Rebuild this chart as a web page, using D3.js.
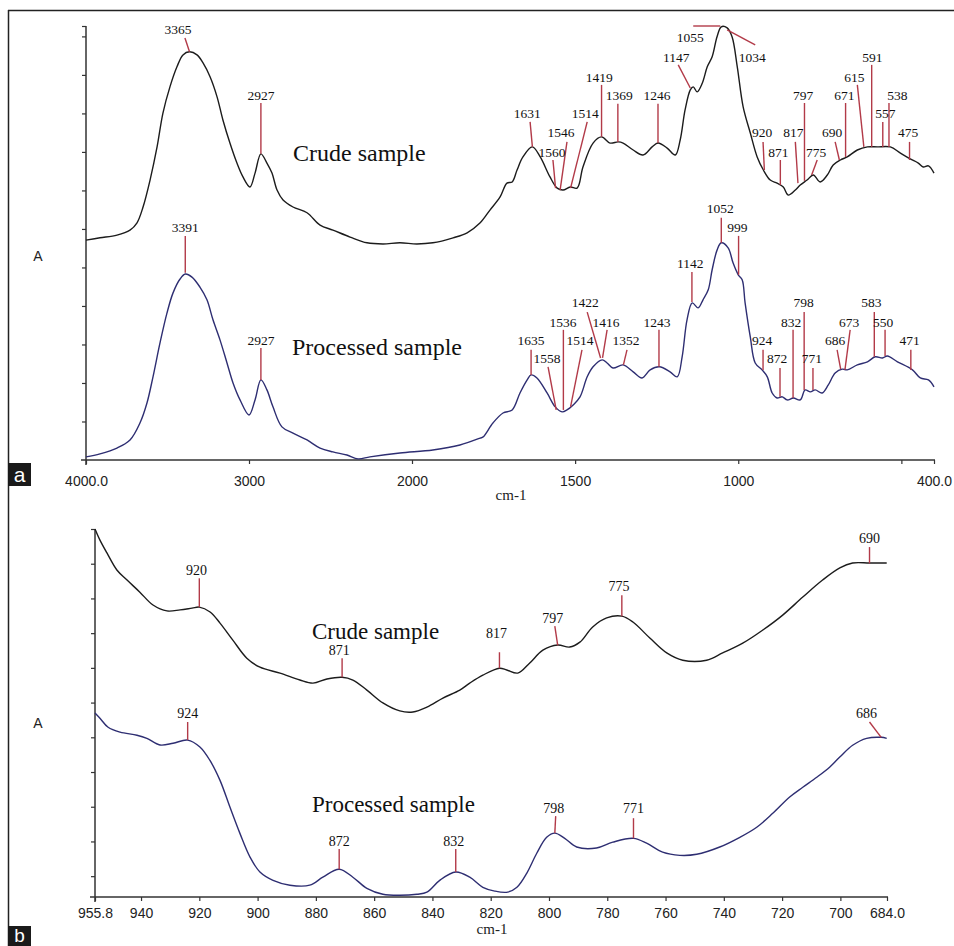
<!DOCTYPE html>
<html>
<head>
<meta charset="utf-8">
<script src="https://cdn.jsdelivr.net/npm/d3@7"></script>
<style>
  body { margin: 0; background: #fff; }
</style>
</head>
<body>
<svg id="chart" width="954" height="946"></svg>
<script>
"use strict";

// ---- panel a : 4000 - 400 cm-1 ----
var crudeFullWn = [4000, 3914, 3810, 3730, 3687, 3650, 3607, 3564, 3528, 3485, 3442, 3405, 3365, 3319, 3282, 3239, 3196, 3160, 3117, 3074,
  3037, 2994, 2963, 2927, 2890, 2859, 2828, 2791, 2730, 2644, 2564, 2485, 2380, 2276, 2178, 2074, 1985, 1936, 1874, 1831,
  1791, 1761, 1730, 1709, 1693, 1678, 1660, 1631, 1607, 1577, 1555, 1537, 1515, 1494, 1476, 1445, 1419, 1393, 1368, 1353,
  1322, 1292, 1264, 1246, 1218, 1193, 1178, 1163, 1147, 1138, 1126, 1110, 1095, 1080, 1065, 1052, 1034, 1019, 1003, 985,
  963, 942, 923, 902, 881, 862, 847, 825, 810, 789, 770, 749, 727, 709, 687, 666, 635, 604, 574, 534,
  503, 473, 448, 433, 417, 400];
var crudeFullAbs = [0.571, 0.577, 0.584, 0.597, 0.616, 0.657, 0.727, 0.813, 0.901, 0.969, 1.021, 1.052, 1.060, 1.052, 1.031, 0.995, 0.943, 0.883, 0.823, 0.771,
  0.735, 0.709, 0.745, 0.795, 0.771, 0.745, 0.701, 0.675, 0.657, 0.642, 0.610, 0.597, 0.579, 0.564, 0.561, 0.564, 0.561, 0.564, 0.577, 0.590,
  0.616, 0.649, 0.683, 0.719, 0.722, 0.753, 0.787, 0.813, 0.787, 0.735, 0.706, 0.701, 0.709, 0.706, 0.761, 0.823, 0.839, 0.823, 0.826, 0.823,
  0.805, 0.792, 0.813, 0.823, 0.810, 0.792, 0.831, 0.909, 0.961, 0.969, 0.956, 0.979, 1.021, 1.047, 1.099, 1.125, 1.122, 1.099, 1.021, 0.917,
  0.849, 0.787, 0.753, 0.727, 0.719, 0.709, 0.688, 0.701, 0.714, 0.727, 0.740, 0.722, 0.740, 0.766, 0.779, 0.787, 0.805, 0.813, 0.813, 0.813,
  0.797, 0.782, 0.771, 0.761, 0.764, 0.745];

var processedFullWn = [4000, 3914, 3810, 3730, 3669, 3626, 3589, 3546, 3503, 3466, 3423, 3391, 3350, 3301, 3258, 3221, 3178, 3135, 3098, 3055,
  3000, 2963, 2927, 2890, 2853, 2798, 2730, 2644, 2564, 2485, 2399, 2331, 2258, 2074, 1936, 1853, 1791, 1782, 1752, 1721,
  1693, 1669, 1647, 1635, 1617, 1586, 1561, 1540, 1525, 1506, 1485, 1463, 1445, 1417, 1402, 1384, 1353, 1322, 1295, 1270,
  1242, 1209, 1187, 1172, 1157, 1141, 1123, 1108, 1092, 1080, 1065, 1052, 1031, 1016, 1000, 988, 979, 963, 948, 927,
  911, 896, 881, 865, 850, 831, 810, 795, 779, 764, 743, 724, 703, 681, 666, 635, 604, 580, 558, 543,
  512, 466, 442, 417, 400];
var processedFullAbs = [0.008, 0.016, 0.031, 0.052, 0.096, 0.148, 0.216, 0.304, 0.382, 0.434, 0.470, 0.483, 0.475, 0.449, 0.416, 0.364, 0.312, 0.252, 0.200, 0.156,
  0.117, 0.156, 0.208, 0.182, 0.138, 0.086, 0.070, 0.052, 0.031, 0.021, 0.013, 0.003, 0.008, 0.018, 0.026, 0.039, 0.057, 0.060, 0.096, 0.122,
  0.130, 0.174, 0.208, 0.221, 0.213, 0.174, 0.138, 0.125, 0.130, 0.143, 0.164, 0.216, 0.242, 0.260, 0.252, 0.239, 0.247, 0.229, 0.213, 0.234,
  0.242, 0.229, 0.216, 0.268, 0.364, 0.408, 0.395, 0.416, 0.442, 0.494, 0.545, 0.564, 0.551, 0.512, 0.481, 0.468, 0.408, 0.319, 0.252, 0.234,
  0.216, 0.174, 0.161, 0.164, 0.156, 0.161, 0.156, 0.182, 0.177, 0.182, 0.174, 0.195, 0.226, 0.236, 0.234, 0.247, 0.255, 0.268, 0.265, 0.270,
  0.255, 0.234, 0.213, 0.208, 0.190];

// peak marks: [wavenumber, abs at peak, line top wn, line top abs, label wn, label abs]
var crudeFullPeaks = [
  [3365, 1.060, 3393, 1.096, 3436, 1.106],
  [2927, 0.795, 2927, 0.927, 2927, 0.935],
  [1631, 0.813, 1638, 0.878, 1647, 0.888],
  [1560, 0.706, 1568, 0.779, 1571, 0.787],
  [1546, 0.701, 1525, 0.826, 1543, 0.839],
  [1514, 0.706, 1463, 0.878, 1469, 0.888],
  [1419, 0.839, 1419, 0.974, 1426, 0.982],
  [1369, 0.826, 1369, 0.925, 1365, 0.935],
  [1246, 0.823, 1246, 0.925, 1249, 0.935],
  [1147, 0.966, 1184, 1.026, 1190, 1.034],
  [1055, 1.127, 1138, 1.127, 1147, 1.086],
  [1034, 1.117, 948, 1.078, 957, 1.034],
  [920, 0.753, 924, 0.826, 927, 0.839],
  [871, 0.714, 871, 0.779, 877, 0.787],
  [817, 0.719, 825, 0.826, 831, 0.839],
  [797, 0.725, 797, 0.927, 801, 0.935],
  [775, 0.740, 758, 0.779, 761, 0.787],
  [690, 0.779, 703, 0.826, 712, 0.839],
  [671, 0.787, 671, 0.927, 675, 0.935],
  [615, 0.813, 635, 0.974, 644, 0.982],
  [591, 0.813, 591, 1.026, 589, 1.034],
  [557, 0.813, 557, 0.878, 549, 0.888],
  [538, 0.813, 538, 0.927, 512, 0.935],
  [475, 0.779, 475, 0.826, 479, 0.839]
];
var processedFullPeaks = [
  [3391, 0.486, 3391, 0.582, 3391, 0.592],
  [2927, 0.208, 2927, 0.291, 2927, 0.299],
  [1635, 0.221, 1635, 0.286, 1635, 0.299],
  [1558, 0.130, 1583, 0.242, 1586, 0.252],
  [1536, 0.130, 1536, 0.338, 1537, 0.345],
  [1514, 0.138, 1479, 0.286, 1485, 0.299],
  [1422, 0.265, 1463, 0.384, 1469, 0.397],
  [1416, 0.265, 1402, 0.338, 1405, 0.345],
  [1352, 0.247, 1341, 0.286, 1344, 0.299],
  [1243, 0.242, 1243, 0.338, 1249, 0.345],
  [1142, 0.410, 1142, 0.488, 1147, 0.499],
  [1052, 0.564, 1052, 0.629, 1055, 0.642],
  [999, 0.481, 999, 0.582, 1003, 0.592],
  [924, 0.234, 924, 0.286, 927, 0.299],
  [872, 0.164, 872, 0.239, 881, 0.252],
  [832, 0.161, 832, 0.338, 838, 0.345],
  [798, 0.182, 798, 0.384, 800, 0.397],
  [771, 0.182, 771, 0.239, 774, 0.252],
  [686, 0.236, 697, 0.286, 703, 0.299],
  [673, 0.234, 657, 0.338, 660, 0.345],
  [583, 0.268, 583, 0.384, 592, 0.397],
  [550, 0.270, 550, 0.338, 556, 0.345],
  [471, 0.234, 471, 0.286, 475, 0.299]
];
var fullTicks = [4000, 3000, 2000, 1500, 1000, 500, 400];
var fullTickLabels = ["4000.0", "3000", "2000", "1500", "1000", "", "400.0"];

// ---- panel b : 955.8 - 684 cm-1 ----
var crudeZoomWn = [955.8, 954.1, 951.7, 948.3, 944.8, 940.4, 935.9, 931.1, 926.6, 922.5, 920, 916.3, 912.9, 908.5, 903.7, 899.2, 892.3, 885.5, 881.0, 876.2,
  871, 867.3, 862.5, 857.0, 851.2, 846.7, 841.9, 836.4, 830.6, 827.2, 822.7, 817, 814.5, 810.7, 806.6, 802.1, 797, 792.9, 789.4, 785.0,
  780.2, 775, 771.2, 765.4, 759.6, 754.1, 745.9, 740.4, 733.5, 726.6, 719.8, 712.9, 706.1, 700.2, 695.8, 690, 684.1];
var crudeZoomAbs = [1.000, 0.968, 0.931, 0.882, 0.853, 0.818, 0.781, 0.764, 0.767, 0.772, 0.775, 0.761, 0.729, 0.680, 0.628, 0.602, 0.585, 0.565, 0.556, 0.568,
  0.573, 0.565, 0.536, 0.499, 0.476, 0.473, 0.487, 0.513, 0.536, 0.556, 0.579, 0.599, 0.594, 0.585, 0.614, 0.651, 0.666, 0.660, 0.674, 0.718,
  0.744, 0.749, 0.732, 0.686, 0.643, 0.622, 0.622, 0.643, 0.671, 0.709, 0.752, 0.804, 0.853, 0.888, 0.902, 0.902, 0.902];

var processedZoomWn = [955.8, 954.1, 951.3, 947.2, 941.4, 938.0, 933.5, 929.0, 924, 919.8, 916.4, 912.9, 909.5, 906.1, 902.6, 899.2, 894.7, 888.9, 882.1, 877.6,
  872, 867.3, 862.5, 857.0, 851.2, 845.3, 841.9, 837.5, 832, 827.2, 822.7, 818.6, 814.2, 811.0, 807.6, 804.2, 800.8, 798, 794.6, 790.5,
  783.7, 778.1, 771, 766.5, 761.0, 755.1, 749.3, 741.4, 734.5, 728.7, 723.2, 717.4, 712.9, 708.1, 703.7, 700.2, 695.8, 691.0, 686, 684.1];
var processedZoomAbs = [0.470, 0.455, 0.429, 0.415, 0.406, 0.397, 0.378, 0.383, 0.392, 0.372, 0.334, 0.276, 0.199, 0.124, 0.055, 0.012, -0.012, -0.026, -0.026, -0.003,
  0.020, -0.003, -0.035, -0.052, -0.055, -0.052, -0.046, -0.012, 0.012, -0.003, -0.032, -0.043, -0.046, -0.032, 0.009, 0.066, 0.112, 0.124, 0.109, 0.084,
  0.081, 0.098, 0.109, 0.095, 0.069, 0.060, 0.063, 0.084, 0.112, 0.141, 0.181, 0.228, 0.256, 0.285, 0.314, 0.343, 0.377, 0.397, 0.400, 0.397];

var crudeZoomPeaks = [
  [920, 0.775, 920, 0.858, 921, 0.867],
  [871, 0.573, 871, 0.628, 872, 0.636],
  [817, 0.599, 817, 0.645, 818, 0.685],
  [797, 0.665, 798, 0.720, 798.7, 0.729],
  [775, 0.749, 775, 0.809, 776, 0.821],
  [690, 0.901, 690, 0.948, 690, 0.959]
];
var processedZoomPeaks = [
  [924, 0.392, 924, 0.444, 924, 0.455],
  [872, 0.020, 872, 0.078, 872, 0.086],
  [832, 0.012, 832, 0.078, 832.7, 0.086],
  [798, 0.124, 797.7, 0.173, 798.4, 0.181],
  [771, 0.109, 771, 0.167, 771, 0.181],
  [686, 0.400, 690, 0.444, 691, 0.455]
];
var zoomTicks = [955.8, 940, 920, 900, 880, 860, 840, 820, 800, 780, 760, 740, 720, 700, 684];

var svg = d3.select("#chart");
var serif = "'Liberation Serif', 'Times New Roman', serif";
var sans = "'Liberation Sans', Arial, sans-serif";
var axisColor = "#333";
var markColor = "#b23a48";

// outer frame (top and left only)
svg.append("line").attr("x1", 8).attr("y1", 10.5).attr("x2", 954).attr("y2", 10.5)
  .attr("stroke", "#222").attr("stroke-width", 1.5);
svg.append("line").attr("x1", 8.5).attr("y1", 10).attr("x2", 8.5).attr("y2", 946)
  .attr("stroke", "#222").attr("stroke-width", 1.5);

function drawPanel(p) {
  var g = svg.append("g");

  // x axis
  var xAxis = d3.axisBottom(p.x).tickValues(p.ticks).tickSize(4).tickPadding(p.tickPad)
    .tickFormat(function(d, i) { return p.tickLabels[i]; });
  g.append("g").attr("transform", "translate(0," + p.y.range()[0] + ")").call(xAxis)
    .call(function(a) { a.select(".domain").remove(); })
    .call(function(a) {
      a.selectAll("line").attr("stroke", axisColor).attr("stroke-width", 1.2);
      a.selectAll("text").attr("font-family", sans).attr("font-size", 14).attr("fill", "#222");
    });

  // y axis ticks, no labels
  var yAxis = d3.axisLeft(p.y).tickValues(p.yTicks).tickSize(4).tickFormat("");
  g.append("g").attr("transform", "translate(" + p.x.range()[0] + ",0)").call(yAxis)
    .call(function(a) { a.select(".domain").remove(); })
    .call(function(a) { a.selectAll("line").attr("stroke", axisColor).attr("stroke-width", 1.2); });

  var x0 = p.x.range()[0], x1 = p.x.range()[p.x.range().length - 1];
  var yb = p.y.range()[0], yt = p.y.range()[1];
  g.append("line").attr("x1", x0 - 5).attr("x2", x1 + 1).attr("y1", yb).attr("y2", yb)
    .attr("stroke", axisColor).attr("stroke-width", 1.5);
  g.append("line").attr("x1", x0).attr("x2", x0).attr("y1", yt).attr("y2", yb + 5)
    .attr("stroke", axisColor).attr("stroke-width", 1.5);

  // spectra
  var line = d3.line()
    .x(function(d) { return p.x(d[0]); })
    .y(function(d) { return p.y(d[1]); })
    .curve(d3.curveCatmullRom.alpha(0.5));

  p.series.forEach(function(s) {
    g.append("path")
      .datum(d3.zip(s.wn, s.abs))
      .attr("fill", "none")
      .attr("stroke", s.color)
      .attr("stroke-width", 1.4)
      .attr("stroke-linejoin", "round")
      .attr("d", line);

    g.selectAll(null).data(s.peaks).enter().append("line")
      .attr("x1", function(d) { return p.x(d[2]); })
      .attr("y1", function(d) { return p.y(d[3]); })
      .attr("x2", function(d) { return p.x(d[0]); })
      .attr("y2", function(d) { return p.y(d[1]); })
      .attr("stroke", markColor)
      .attr("stroke-width", 1.4);

    g.selectAll(null).data(s.peaks).enter().append("text")
      .attr("x", function(d) { return p.x(d[4]); })
      .attr("y", function(d) { return p.y(d[5]); })
      .attr("text-anchor", "middle")
      .attr("font-family", serif)
      .attr("font-size", p.peakFont)
      .attr("fill", "#111")
      .text(function(d) { return d[0]; });

    g.append("text")
      .attr("x", s.nameX).attr("y", s.nameY)
      .attr("font-family", serif).attr("font-size", p.nameFont).attr("fill", "#111")
      .text(s.name);
  });

  g.append("text").attr("x", 38).attr("y", p.aY).attr("text-anchor", "middle")
    .attr("font-family", sans).attr("font-size", 14).attr("fill", "#222").text("A");
  g.append("text").attr("x", p.unitX).attr("y", p.unitY).attr("text-anchor", "middle")
    .attr("font-family", serif).attr("font-size", 15).attr("fill", "#222").text("cm-1");

  g.append("rect").attr("x", 8).attr("y", p.tagY).attr("width", 23).attr("height", p.tagH).attr("fill", "#1a1a1a");
  g.append("text").attr("x", 19.5).attr("y", p.tagY + p.tagH - 4).attr("text-anchor", "middle")
    .attr("font-family", sans).attr("font-size", p.tagFont).attr("fill", "#fff").text(p.tag);
}

drawPanel({
  x: d3.scaleLinear().domain([4000, 2000, 400]).range([86, 412, 934]),
  y: d3.scaleLinear().domain([0, 1.127]).range([460, 26]),
  ticks: fullTicks,
  tickLabels: fullTickLabels,
  tickPad: 12,
  yTicks: d3.range(1, 12).map(function(i) { return i / 10; }).concat([1.127]),
  peakFont: 13.5,
  nameFont: 24,
  series: [
    { name: "Crude sample", wn: crudeFullWn, abs: crudeFullAbs, peaks: crudeFullPeaks, color: "#1c1c1c", nameX: 293, nameY: 161 },
    { name: "Processed sample", wn: processedFullWn, abs: processedFullAbs, peaks: processedFullPeaks, color: "#2e2e72", nameX: 292, nameY: 355 }
  ],
  aY: 261, unitX: 511, unitY: 500, tagY: 463, tagH: 23, tagFont: 21, tag: "a"
});

drawPanel({
  x: d3.scaleLinear().domain([955.8, 684]).range([95, 887]),
  y: d3.scaleLinear().domain([-0.06, 1.0]).range([897, 529]),
  ticks: zoomTicks,
  tickLabels: zoomTicks.map(function(d) { return d === 955.8 ? "955.8" : d === 684 ? "684.0" : String(d); }),
  tickPad: 7,
  yTicks: d3.range(0, 11).map(function(i) { return i / 10; }),
  peakFont: 14,
  nameFont: 23,
  series: [
    { name: "Crude sample", wn: crudeZoomWn, abs: crudeZoomAbs, peaks: crudeZoomPeaks, color: "#1c1c1c", nameX: 312, nameY: 639 },
    { name: "Processed sample", wn: processedZoomWn, abs: processedZoomAbs, peaks: processedZoomPeaks, color: "#2e2e72", nameX: 312, nameY: 812 }
  ],
  aY: 728, unitX: 492, unitY: 934, tagY: 926, tagH: 20, tagFont: 19, tag: "b"
});
</script>
</body>
</html>
